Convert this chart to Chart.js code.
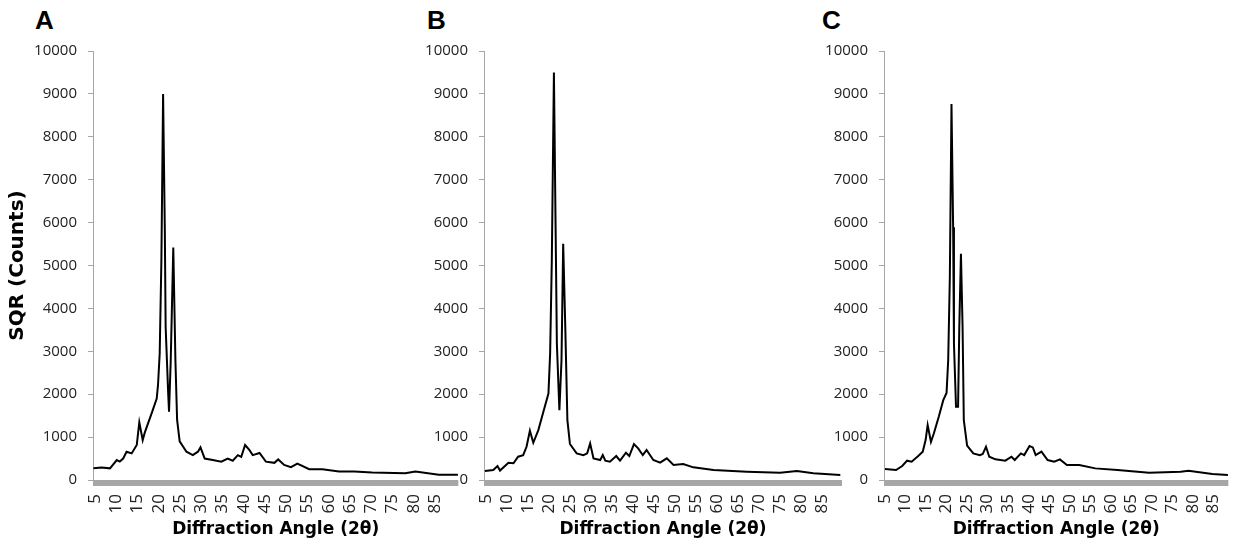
<!DOCTYPE html>
<html><head><meta charset="utf-8">
<script src="https://cdn.jsdelivr.net/npm/chart.js@4"></script>
<style>
body{margin:0;background:#fff;width:1248px;height:548px;overflow:hidden;position:relative}
canvas{position:absolute;top:0}
.lbl{position:absolute;font:bold 26px "Liberation Sans",Arial,sans-serif;line-height:1;color:#000}
</style></head><body>
<div class="lbl" style="left:35px;top:7px">A</div>
<div class="lbl" style="left:427px;top:7px">B</div>
<div class="lbl" style="left:822px;top:7px">C</div>
<canvas id="cA" width="470" height="548" style="left:0px"></canvas>
<canvas id="cB" width="460" height="548" style="left:400px"></canvas>
<canvas id="cC" width="448" height="548" style="left:800px"></canvas>
<script>
const panelLetters = ['A','B','C'];
const xTickValues = [5,10,15,20,25,30,35,40,45,50,55,60,65,70,75,80,85];
const yAxisTitle = 'SQR (Counts)';
const xAxisTitle = 'Diffraction Angle (2θ)';

const anglesA = [4.6,6.5,8.5,10.1,10.8,11.6,12.4,13.6,14.8,15.4,16.2,16.7,18.3,19.5,19.8,20.2,20.6,21.0,21.4,21.6,22.2,22.4,22.8,23.4,23.9,24.3,24.9,26.5,28.0,29.2,29.8,30.8,32.7,34.7,36.2,37.4,38.6,39.4,40.3,41.3,42.1,43.7,45.2,47.2,48.1,49.5,51.1,52.6,55.4,58.5,62.4,66.0,70.2,78.0,80.4,85.9,90.4];
const countsA = [272,290,272,466,430,500,660,620,815,1344,932,1110,1553,1900,2210,2950,5120,9000,5900,3570,2020,1590,2790,5420,2790,1400,900,660,580,660,760,500,466,427,500,450,580,540,815,700,580,630,427,400,480,350,300,380,250,250,200,200,175,160,200,120,120];

const anglesB = [4.8,6.8,7.8,8.4,10.4,11.6,12.7,13.9,14.7,15.5,16.3,17.5,18.7,19.9,20.3,20.7,21.2,21.6,21.9,22.5,23.0,23.4,23.9,24.4,25.0,26.6,28.2,29.1,29.8,30.6,32.2,32.8,33.4,34.5,36.0,36.9,38.3,39.1,40.2,41.2,42.3,43.2,44.8,46.4,48.0,49.6,51.9,54.3,59.1,67.0,74.9,78.9,82.8,89.2];
const countsB = [209,233,326,220,403,390,543,580,775,1147,868,1163,1589,2016,2946,5117,9497,5892,3180,1628,2791,5506,3566,1396,840,620,580,620,853,504,465,580,450,427,558,450,636,558,837,736,580,698,465,403,504,350,372,295,233,194,170,209,155,116];

const anglesC = [5.0,7.7,9.2,10.4,11.5,13.1,14.2,14.9,15.4,16.2,16.9,18.1,19.2,20.0,20.4,20.8,21.2,21.6,21.8,22.3,22.8,23.1,23.5,23.9,24.2,25.0,26.5,28.1,28.8,29.6,30.4,31.9,34.3,35.8,36.6,38.1,38.9,40.2,41.0,41.7,43.1,44.6,46.2,47.6,49.3,52.3,56.2,61.6,69.3,77.0,78.9,84.7,88.5];
const countsC = [256,233,326,450,427,558,660,930,1280,890,1085,1473,1861,2030,2791,4729,8762,5892,3180,1705,1705,3566,5273,3566,1396,800,620,580,605,775,543,481,450,543,465,620,580,790,760,580,660,465,427,481,350,350,271,233,170,194,217,140,116];

const axisBar = {
  id: 'axisBar',
  afterDatasetsDraw(chart) {
    const {ctx, chartArea} = chart;
    ctx.save();
    ctx.fillStyle = '#a6a6a6';
    ctx.fillRect(chartArea.left, chartArea.bottom, chartArea.right - chartArea.left, 6);
    ctx.restore();
  }
};

function makeChart(id, angles, counts, cfg) {
  const pts = angles.map((a, i) => ({x: a, y: counts[i]}));
  new Chart(document.getElementById(id), {
    type: 'line',
    data: {datasets: [{data: pts, borderColor: '#000', borderWidth: 2, pointRadius: 0, tension: 0, fill: false}]},
    options: {
      responsive: false, animation: false, devicePixelRatio: 1,
      layout: {autoPadding: false, padding: {top: 51, left: 0, bottom: 0, right: cfg.padRight}},
      plugins: {legend: {display: false}, tooltip: {enabled: false}},
      scales: {
        x: {
          type: 'linear', min: cfg.xMin, max: cfg.xMax,
          afterBuildTicks: s => { s.ticks = xTickValues.map(v => ({value: v})); },
          afterFit: s => { s.height = 68; },
          grid: {display: false, drawTicks: false},
          border: {display: false},
          ticks: {autoSkip: false, minRotation: 90, maxRotation: 90, padding: 14, color: '#222',
                  callback: v => String(v),
                  font: {family: '"Open Sans", sans-serif', size: 17}},
          title: {display: true, text: xAxisTitle, color: '#000', padding: {top: 0, bottom: 8},
                  font: {family: '"DejaVu Sans", sans-serif', size: 17, weight: 'bold'}}
        },
        y: {
          min: 0, max: 10000,
          afterFit: s => { s.width = cfg.yWidth; },
          grid: {display: true, drawOnChartArea: false, drawTicks: true, tickLength: 5, color: '#a6a6a6'},
          border: {display: true, color: '#a6a6a6', width: 1},
          ticks: {stepSize: 1000, padding: 11, color: '#222',
                  callback: v => String(v),
                  font: {family: '"Open Sans", sans-serif', size: 15}},
          title: {display: cfg.showYTitle, text: yAxisTitle, color: '#000', padding: {top: 6, bottom: 0},
                  font: {family: '"DejaVu Sans", sans-serif', size: 20, weight: 'bold'}}
        }
      }
    },
    plugins: [axisBar]
  });
}

makeChart('cA', anglesA, countsA, {xMin: 4.5, xMax: 90.5, yWidth: 93, padRight: 10, showYTitle: true});
makeChart('cB', anglesB, countsB, {xMin: 4.6, xMax: 89.6, yWidth: 84, padRight: 18, showYTitle: false});
makeChart('cC', anglesC, countsC, {xMin: 4.77, xMax: 88.6, yWidth: 84, padRight: 1, showYTitle: false});
</script>
</body></html>
